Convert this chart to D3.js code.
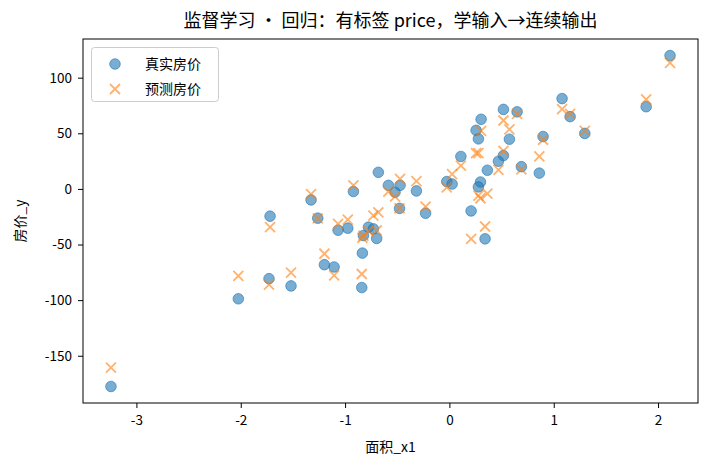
<!DOCTYPE html>
<html>
<head>
<meta charset="utf-8">
<script src="https://cdn.jsdelivr.net/npm/d3@7"></script>
<style>
  html, body { margin: 0; padding: 0; background: #fff; }
  svg { display: block; }
  text { font-family: "Noto Sans CJK SC", "DejaVu Sans", sans-serif; fill: #000; }
</style>
</head>
<body>
<svg id="chart" width="710" height="468"></svg>
<script>
// ---- data ----
const areaX = [-3.244, -2.023, -1.719, -1.729, -1.518, -1.262, -1.198, -1.105, -1.067, -0.974,
  -0.840, -0.834, -1.326, -0.920, -0.824, -0.776, -0.729, -0.697, -0.681, -0.585,
  -0.521, -0.473, -0.478, -0.316, -0.228, -0.025, 0.026, 0.110, 0.208, 0.342,
  0.364, 0.298, 0.278, 0.256, 0.278, 0.304, 0.470, 0.518, 0.518, 0.575,
  0.649, 0.690, 0.862, 0.898, 1.080, 1.157, 1.298, 1.886, 2.115];
const priceTrue = [-177.6, -98.8, -24.5, -80.7, -87.2, -26.3, -68.1, -70.2, -37.1, -35.3,
  -88.7, -57.7, -9.9, -2.3, -41.9, -34.4, -35.9, -44.5, 14.9, 3.2,
  -3.0, 3.2, -17.5, -1.8, -21.9, 6.6, 4.4, 29.2, -19.8, -44.9,
  16.8, 6.2, 1.8, 52.7, 45.0, 62.6, 24.9, 30.0, 71.5, 44.7,
  69.3, 20.0, 14.2, 47.1, 81.2, 65.0, 49.9, 73.9, 119.9];
const pricePred = [-160.6, -78.2, -34.4, -86.0, -75.3, -26.5, -58.3, -77.7, -31.4, -27.6,
  -76.5, -44.0, -4.6, 3.2, -42.0, -38.0, -24.0, -37.4, -21.0, -2.5,
  -7.0, 9.0, -17.5, 7.0, -15.9, 1.4, 13.3, 21.0, -44.9, -33.8,
  -4.3, -8.4, -6.1, 32.1, 32.1, 52.1, 17.1, 34.2, 61.5, 53.6,
  67.5, 17.5, 29.2, 44.2, 71.8, 67.5, 52.1, 80.5, 113.3];
const xTicks = [-3, -2, -1, 0, 1, 2];
const yTicks = [-150, -100, -50, 0, 50, 100];
const legendLabels = ["真实房价", "预测房价"];
const titleText = "监督学习 · 回归：有标签 price，学输入→连续输出";
const xLabel = "面积_x1";
const yLabel = "房价_y";

// ---- layout ----
const W = 710, H = 468;
const plot = { left: 83, right: 698, top: 39, bottom: 403 };
const blue = "#1f77b4", orange = "#ff7f0e";

const svg = d3.select("#chart");

function padded(ext) {
  const r = ext[1] - ext[0];
  return [ext[0] - 0.05 * r, ext[1] + 0.05 * r];
}
const x = d3.scaleLinear().domain(padded(d3.extent(areaX))).range([plot.left, plot.right]);
const y = d3.scaleLinear().domain(padded(d3.extent(priceTrue.concat(pricePred)))).range([plot.bottom, plot.top]);

const fmt = d => String(d);

// axes
const xAxis = d3.axisBottom(x).tickValues(xTicks).tickFormat(fmt).tickSizeOuter(0).tickSize(5).tickPadding(7);
const yAxis = d3.axisLeft(y).tickValues(yTicks).tickFormat(fmt).tickSizeOuter(0).tickSize(5).tickPadding(6);

const gx = svg.append("g").attr("transform", `translate(0,${plot.bottom})`).call(xAxis);
const gy = svg.append("g").attr("transform", `translate(${plot.left},0)`).call(yAxis);
[gx, gy].forEach(g => {
  g.select(".domain").remove();
  g.selectAll(".tick line").attr("stroke", "#000").attr("stroke-width", 1);
  g.selectAll(".tick text").style("font-size", "13.5px").attr("fill", "#000");
});

// frame
svg.append("rect")
  .attr("x", plot.left).attr("y", plot.top)
  .attr("width", plot.right - plot.left).attr("height", plot.bottom - plot.top)
  .attr("fill", "none").attr("stroke", "#000").attr("stroke-width", 1);

// points
const pts = areaX.map((v, i) => ({ x: v, yt: priceTrue[i], yp: pricePred[i] }));
const plotG = svg.append("g");

plotG.selectAll("circle.true").data(pts).join("circle")
  .attr("class", "true")
  .attr("cx", d => x(d.x)).attr("cy", d => y(d.yt)).attr("r", 5.3)
  .attr("fill", blue).attr("fill-opacity", 0.6)
  .attr("stroke", blue).attr("stroke-opacity", 0.6).attr("stroke-width", 1);

const s = 5;
plotG.selectAll("path.pred").data(pts).join("path")
  .attr("class", "pred")
  .attr("d", d => {
    const cx = x(d.x), cy = y(d.yp);
    return `M${cx - s},${cy - s}L${cx + s},${cy + s}M${cx - s},${cy + s}L${cx + s},${cy - s}`;
  })
  .attr("stroke", orange).attr("stroke-opacity", 0.6).attr("stroke-width", 1.8).attr("fill", "none");

// legend
const lg = svg.append("g");
lg.append("rect").attr("x", 91.5).attr("y", 47.5).attr("width", 127).attr("height", 54).attr("rx", 3)
  .attr("fill", "#fff").attr("fill-opacity", 0.8).attr("stroke", "#cccccc").attr("stroke-width", 1);
lg.append("circle").attr("cx", 115).attr("cy", 64).attr("r", 5.3)
  .attr("fill", blue).attr("fill-opacity", 0.6).attr("stroke", blue).attr("stroke-opacity", 0.6);
lg.append("path")
  .attr("d", `M${115 - s},${89 - s}L${115 + s},${89 + s}M${115 - s},${89 + s}L${115 + s},${89 - s}`)
  .attr("stroke", orange).attr("stroke-opacity", 0.6).attr("stroke-width", 1.8);
lg.selectAll("text").data(legendLabels).join("text")
  .attr("x", 145).attr("y", (d, i) => 64 + i * 25.5).attr("dy", "0.35em")
  .style("font-size", "14px").text(d => d);

// title and axis labels
svg.append("text").attr("x", (plot.left + plot.right) / 2).attr("y", 27)
  .attr("text-anchor", "middle").style("font-size", "18px").text(titleText);
svg.append("text").attr("x", (plot.left + plot.right) / 2).attr("y", 452)
  .attr("text-anchor", "middle").style("font-size", "14px").text(xLabel);
svg.append("text").attr("transform", `translate(25,${(plot.top + plot.bottom) / 2}) rotate(-90)`)
  .attr("text-anchor", "middle").style("font-size", "14px").text(yLabel);
</script>
</body>
</html>
